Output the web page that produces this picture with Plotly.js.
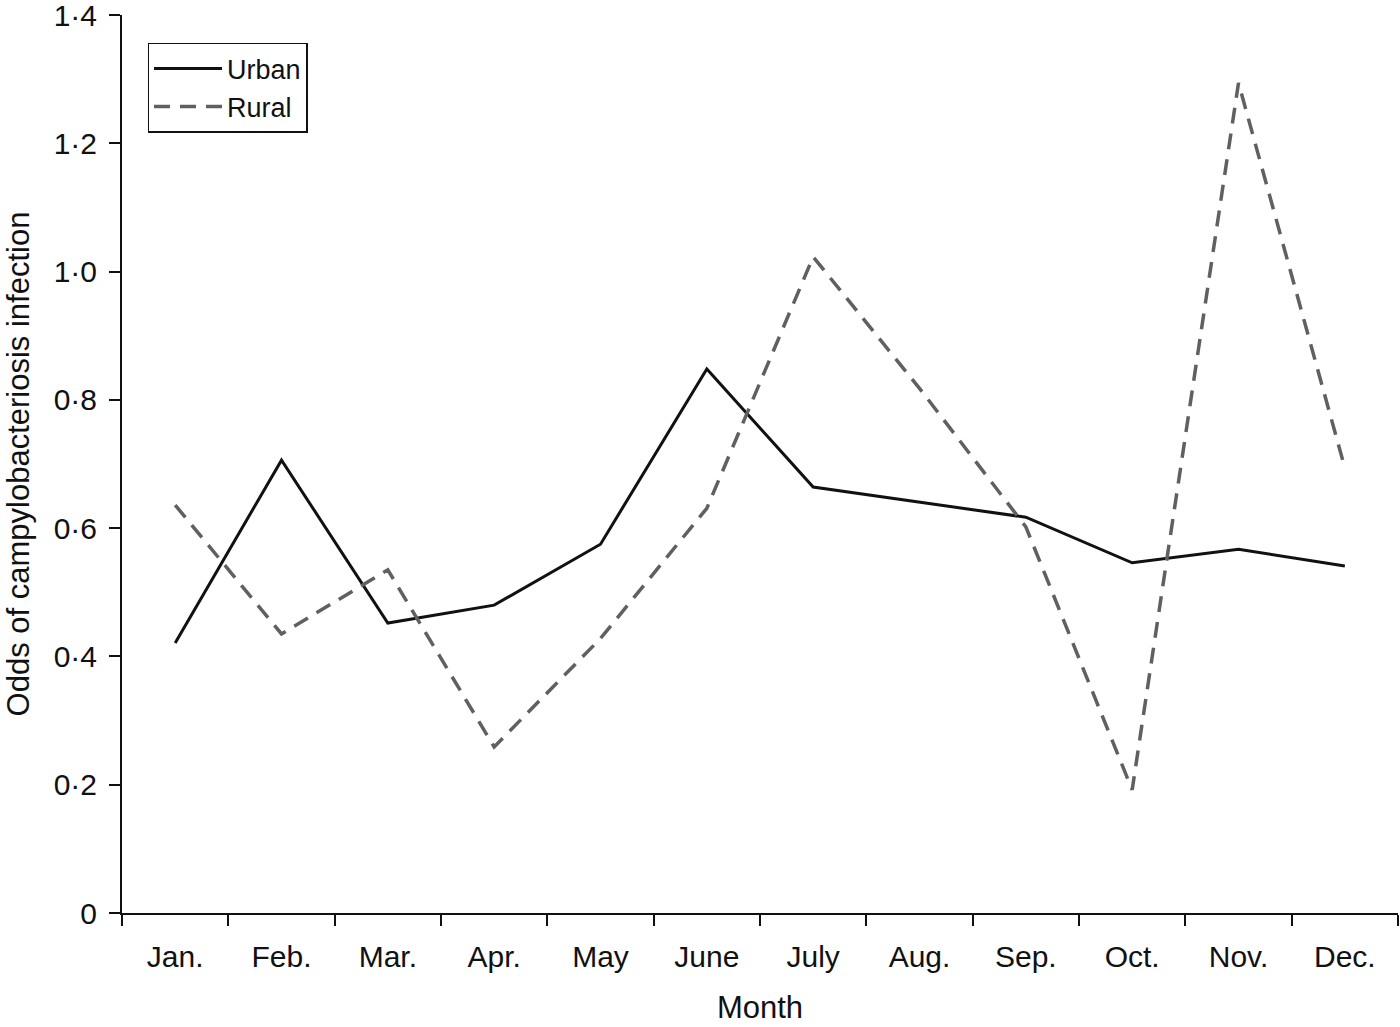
<!DOCTYPE html>
<html>
<head>
<meta charset="utf-8">
<script src="https://cdn.plot.ly/plotly-3.0.1.min.js"></script>
<style>html,body{margin:0;padding:0;background:#fff;}#chart{width:1400px;height:1027px;}</style>
</head>
<body>
<div id="chart"></div>
<script>
const months = ["Jan.", "Feb.", "Mar.", "Apr.", "May", "June", "July", "Aug.", "Sep.", "Oct.", "Nov.", "Dec."];
const urban = [0.421, 0.706, 0.452, 0.480, 0.575, 0.848, 0.664, 0.641, 0.617, 0.546, 0.567, 0.541];
const rural = [0.636, 0.435, 0.535, 0.259, 0.428, 0.631, 1.023, 0.818, 0.602, 0.192, 1.294, 0.694];
const yTickVals = [0, 0.2, 0.4, 0.6, 0.8, 1.0, 1.2, 1.4];
const yTickText = ["0", "0·2", "0·4", "0·6", "0·8", "1·0", "1·2", "1·4"];

const traces = [
  {x: months, y: urban, type: "scatter", mode: "lines", name: "Urban",
   line: {color: "#111111", width: 3}},
  {x: months, y: rural, type: "scatter", mode: "lines", name: "Rural",
   line: {color: "#606060", width: 3.5, dash: "16px,10px"}}
];

const layout = {
  width: 1400, height: 1027,
  margin: {l: 122, r: 2, t: 15, b: 114},
  paper_bgcolor: "#fff", plot_bgcolor: "#fff",
  font: {family: "Liberation Sans, Arial, sans-serif", color: "#111", size: 30},
  showlegend: true,
  legend: {x: 0.02, y: 0.969, xanchor: "left", yanchor: "top",
           bordercolor: "#111", borderwidth: 1.5, bgcolor: "#fff",
           font: {size: 27}, tracegroupgap: 0, itemwidth: 68},
  xaxis: {
    type: "category", range: [-0.5, 11.5],
    showline: true, linecolor: "#111", linewidth: 2,
    ticks: "outside", tickson: "boundaries", ticklen: 11, tickwidth: 2, tickcolor: "#111",
    showgrid: false, zeroline: false,
    tickfont: {size: 30}, ticklabelstandoff: 16,
    title: {text: "Month", font: {size: 31}, standoff: 24}
  },
  yaxis: {
    range: [0, 1.4],
    tickvals: yTickVals, ticktext: yTickText,
    showline: true, linecolor: "#111", linewidth: 2,
    ticks: "outside", ticklen: 11, tickwidth: 2, tickcolor: "#111",
    showgrid: false, zeroline: false, ticklabeloverflow: "allow",
    tickfont: {size: 30}, ticklabelstandoff: 6,
    title: {text: "Odds of campylobacteriosis infection", font: {size: 31}, standoff: 15}
  }
};

Plotly.newPlot("chart", traces, layout, {displayModeBar: false, staticPlot: true});
</script>
</body>
</html>
